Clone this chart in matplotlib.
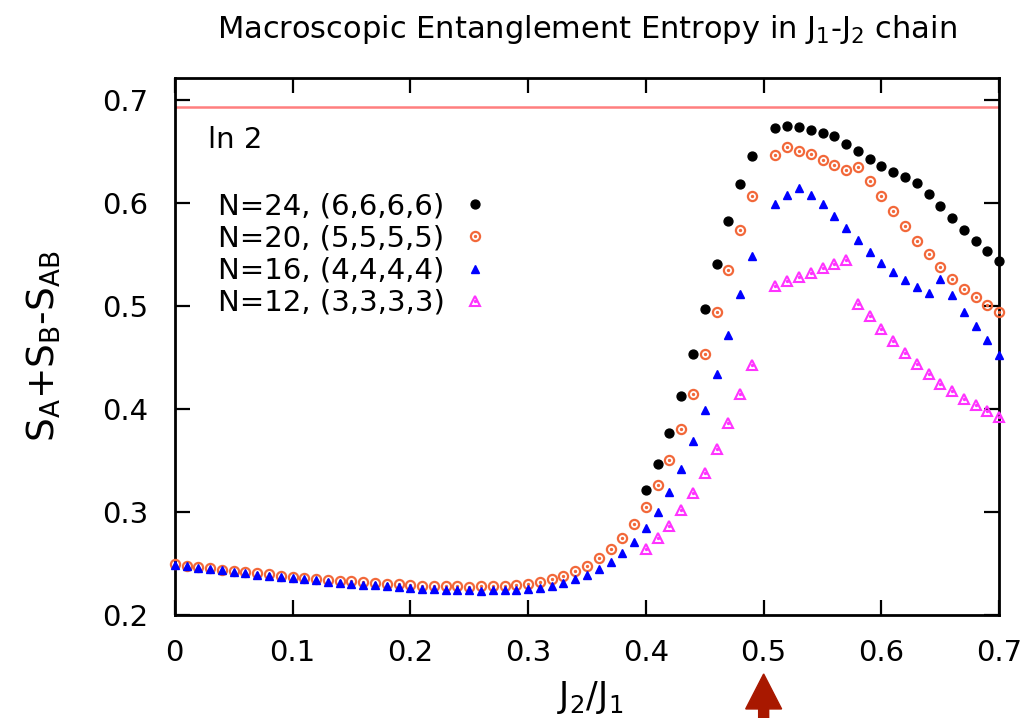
import numpy as np
import matplotlib
matplotlib.use("Agg")
import matplotlib.pyplot as plt
from matplotlib.patches import FancyArrow
from matplotlib.transforms import blended_transform_factory
from matplotlib.legend_handler import HandlerTuple

plt.rcParams['font.family'] = ['DejaVu Sans']
plt.rcParams['mathtext.default'] = 'regular'

# ---------------- data ----------------
j2_all = np.round(np.arange(0.0, 0.705, 0.01), 2)      # 0.00 ... 0.70
j2_high = np.round(np.arange(0.40, 0.705, 0.01), 2)    # 0.40 ... 0.70

n20 = [0.2490, 0.2480, 0.2466, 0.2453, 0.2441, 0.2428, 0.2415, 0.2403, 0.2393, 0.2383,
       0.2373, 0.2363, 0.2353, 0.2343, 0.2334, 0.2325, 0.2317, 0.2310, 0.2303, 0.2297,
       0.2291, 0.2286, 0.2282, 0.2279, 0.2277, 0.2276, 0.2277, 0.2280, 0.2286, 0.2294,
       0.2303, 0.2318, 0.2345, 0.2383, 0.2422, 0.2478, 0.2551, 0.2639, 0.2746, 0.2882,
       0.3047, 0.3257, 0.3507, 0.3808, 0.4144, 0.4529, 0.4937, 0.5345, 0.5733, 0.6070,
       np.nan, 0.6461, 0.6542, 0.6503, 0.6471, 0.6419, 0.6367, 0.6316, 0.6348, 0.6212,
       0.6070, 0.5920, 0.5775, 0.5633, 0.5500, 0.5377, 0.5264, 0.5163, 0.5085, 0.5005, 0.4940]

n16 = [0.2485, 0.2474, 0.2459, 0.2445, 0.2432, 0.2418, 0.2404, 0.2391, 0.2380, 0.2369,
       0.2357, 0.2346, 0.2335, 0.2324, 0.2314, 0.2304, 0.2295, 0.2287, 0.2279, 0.2270,
       0.2262, 0.2256, 0.2250, 0.2245, 0.2241, 0.2238, 0.2237, 0.2238, 0.2240, 0.2243,
       0.2248, 0.2264, 0.2286, 0.2309, 0.2351, 0.2390, 0.2449, 0.2519, 0.2604, 0.2707,
       0.2843, 0.2998, 0.3192, 0.3419, 0.3690, 0.3992, 0.4342, 0.4714, 0.5111, 0.5484,
       np.nan, 0.5985, 0.6073, 0.6148, 0.6076, 0.5988, 0.5876, 0.5759, 0.5636, 0.5522,
       0.5418, 0.5328, 0.5248, 0.5183, 0.5128, 0.5264, 0.5109, 0.4940, 0.4801, 0.4665, 0.4526]

n24 = [0.3209, 0.3468, 0.3767, 0.4128, 0.4532, 0.4966, 0.5406, 0.5823, 0.6180, 0.6458,
       np.nan, 0.6724, 0.6746, 0.6738, 0.6711, 0.6683, 0.6648, 0.6576, 0.6500, 0.6425,
       0.6357, 0.6299, 0.6248, 0.6194, 0.6082, 0.5966, 0.5852, 0.5740, 0.5634, 0.5532, 0.5438]

n12 = [0.2643, 0.2748, 0.2864, 0.3015, 0.3188, 0.3380, 0.3613, 0.3862, 0.4141, 0.4422,
       np.nan, 0.5192, 0.5238, 0.5280, 0.5322, 0.5364, 0.5403, 0.5442, 0.5015, 0.4898,
       0.4776, 0.4655, 0.4542, 0.4432, 0.4335, 0.4245, 0.4170, 0.4099, 0.4034, 0.3979, 0.3921]

labels = ["N=24, (6,6,6,6)", "N=20, (5,5,5,5)", "N=16, (4,4,4,4)", "N=12, (3,3,3,3)"]
ln2_value = np.log(2)
xticks = [0.0, 0.1, 0.2, 0.3, 0.4, 0.5, 0.6, 0.7]
xticklabels = ["0", "0.1", "0.2", "0.3", "0.4", "0.5", "0.6", "0.7"]
yticks = [0.2, 0.3, 0.4, 0.5, 0.6, 0.7]
yticklabels = ["0.2", "0.3", "0.4", "0.5", "0.6", "0.7"]
arrow_x = 0.5

# ---------------- figure ----------------
fig = plt.figure(figsize=(10.28, 7.18), dpi=100)
ax = fig.add_axes([0.170, 0.1435, 0.802, 0.7475])

FS = 21
c_black = '#000000'
c_orange = '#F2683A'
c_blue = '#0000FF'
c_mag = '#FF33FF'

ax.axhline(ln2_value, color='#FF7F7F', lw=1.8, zorder=1)

h24, = ax.plot(j2_high, n24, ls='none', marker='o', ms=6.4, color=c_black, mec=c_black,
               clip_on=False, zorder=3)
h20a, = ax.plot(j2_all, n20, ls='none', marker='o', ms=6.6, mfc='none', mec=c_orange,
                mew=1.6, clip_on=False, zorder=3)
h20b, = ax.plot(j2_all, n20, ls='none', marker='o', ms=1.4, color=c_orange,
                clip_on=False, zorder=3)
h16, = ax.plot(j2_all, n16, ls='none', marker='^', ms=6.2, color=c_blue, mec=c_blue,
               clip_on=False, zorder=4)
h12a, = ax.plot(j2_high, n12, ls='none', marker='^', ms=7.6, mfc='none', mec=c_mag,
                mew=1.5, clip_on=False, zorder=4)
h12b, = ax.plot(j2_high, n12, ls='none', marker='o', ms=1.4, color=c_mag,
                clip_on=False, zorder=4)

ax.set_xlim(0, 0.7)
ax.set_ylim(0.2, 0.721)
ax.set_xticks(xticks)
ax.set_xticklabels(xticklabels)
ax.set_yticks(yticks)
ax.set_yticklabels(yticklabels)
ax.tick_params(direction='in', length=10.5, width=1.6, labelsize=FS,
               top=True, right=True, pad=17)
ax.tick_params(axis='y', pad=19)
for s in ax.spines.values():
    s.set_linewidth(2.0)

ax.set_title(r'Macroscopic Entanglement Entropy in J$_1$-J$_2$ chain',
             fontsize=22, pad=29)
ax.set_xlabel(r'J$_2$/J$_1$', fontsize=25)
ax.xaxis.set_label_coords(0.504, -0.12)
ax.xaxis.label.set_va('top')
ax.set_ylabel(r'S$_A$+S$_B$-S$_{AB}$', fontsize=27)
ax.yaxis.set_label_coords(-0.136, 0.5)

ax.text(0.04, 0.8845, 'ln 2', transform=ax.transAxes, fontsize=FS, va='center', ha='left')

leg = ax.legend([h24, (h20a, h20b), h16, (h12a, h12b)], labels,
                handler_map={tuple: HandlerTuple(ndivide=1)},
                loc='upper left', bbox_to_anchor=(0.052, 0.787), frameon=False,
                markerfirst=False, fontsize=FS, borderpad=0, borderaxespad=0,
                labelspacing=0.14, handlelength=0.5, handletextpad=0.78)

# arrow marking J2/J1 = 0.5 below the axis
tr = blended_transform_factory(ax.transData, fig.transFigure)
arr = FancyArrow(arrow_x, 0.0, 0, 0.0613, width=0.0085, head_width=0.0305,
                 head_length=0.0487, length_includes_head=True,
                 color='#A81800', transform=tr, clip_on=False)
fig.add_artist(arr)

fig.savefig('out.png', dpi=100)
